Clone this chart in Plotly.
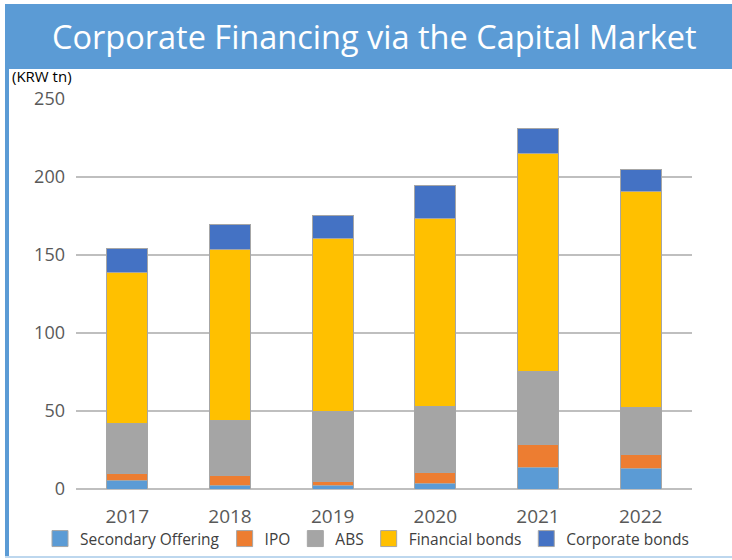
import plotly.graph_objects as go

years = ['2017', '2018', '2019', '2020', '2021', '2022']
secondary_offering = [5.3, 2.3, 2.3, 3.4, 13.9, 13.0]
ipo = [4.7, 6.2, 2.8, 7.5, 14.9, 8.8]
abs_vals = [32.3, 35.7, 44.9, 42.1, 46.6, 30.5]
financial_bonds = [96.5, 109.4, 110.3, 120.7, 139.7, 138.3]
corporate_bonds = [15.4, 16.0, 15.1, 20.7, 16.3, 14.1]

series = [
    ('Secondary Offering', secondary_offering, '#5B9BD5'),
    ('IPO', ipo, '#ED7D31'),
    ('ABS', abs_vals, '#A5A5A5'),
    ('Financial bonds', financial_bonds, '#FFC000'),
    ('Corporate bonds', corporate_bonds, '#4472C4'),
]

W, H = 732, 560
L, R, T, B = 76, 40, 99, 71
pw, ph = W - L - R, H - T - B


def px(x):
    return (x - L) / pw


def py(y):
    return (H - B - y) / ph


fig = go.Figure()
for name, vals, color in series:
    fig.add_trace(go.Bar(x=years, y=vals, name=name, showlegend=False,
                         marker=dict(color=color,
                                     line=dict(color='#A6A6A6', width=1))))
# bigger square legend keys
for name, vals, color in series:
    fig.add_trace(go.Scatter(x=[None], y=[None], name=name, mode='markers',
                             marker=dict(symbol='square', size=18, color=color,
                                         line=dict(color='#A6A6A6', width=1))))

fig.update_layout(
    width=W, height=H,
    margin=dict(l=L, r=R, t=T, b=B, autoexpand=False),
    barmode='stack', bargap=0.6,
    plot_bgcolor='white', paper_bgcolor='white',
    font=dict(family='Open Sans', color='#595959'),
    showlegend=True,
    legend=dict(orientation='h', x=px(40), xanchor='left', y=py(539),
                yanchor='middle', font=dict(size=15.5, color='#404040'),
                traceorder='normal', itemwidth=30, bgcolor='rgba(0,0,0,0)'),
    xaxis=dict(showgrid=False, showline=False, ticks='', automargin=False,
               tickfont=dict(size=19, color='#595959'),
               ticklabelstandoff=14),
    yaxis=dict(range=[0, 250], dtick=50, showgrid=True, gridcolor='#BFBFBF',
               gridwidth=2, zeroline=True, zerolinecolor='#BFBFBF',
               zerolinewidth=2, ticks='', ticklabelstandoff=10,
               automargin=False,
               tickfont=dict(size=18, color='#595959')),
    shapes=[
        dict(type='rect', xref='paper', yref='paper',
             x0=px(5), x1=px(732), y0=py(69), y1=py(4),
             fillcolor='#5B9BD5', line=dict(width=0), layer='below'),
        dict(type='rect', xref='paper', yref='paper',
             x0=px(5), x1=px(9), y0=py(557), y1=py(69),
             fillcolor='#5B9BD5', line=dict(width=0), layer='below'),
        dict(type='line', xref='paper', yref='paper',
             x0=px(5), x1=px(732), y0=py(557), y1=py(557),
             line=dict(color='#BDD7EE', width=2)),
    ],
    annotations=[
        dict(text='Corporate Financing via the Capital Market',
             xref='paper', yref='paper', x=px(374), y=py(37),
             xanchor='center', yanchor='middle', showarrow=False,
             font=dict(size=32.5, color='white', family='Open Sans')),
        dict(text='(KRW tn)', xref='paper', yref='paper',
             x=px(10), y=py(76), xanchor='left', yanchor='middle',
             showarrow=False, font=dict(size=15, color='black')),
    ],
)

fig.write_html('out.html', config={'displayModeBar': False},
               post_script="document.body.style.margin='0';")
